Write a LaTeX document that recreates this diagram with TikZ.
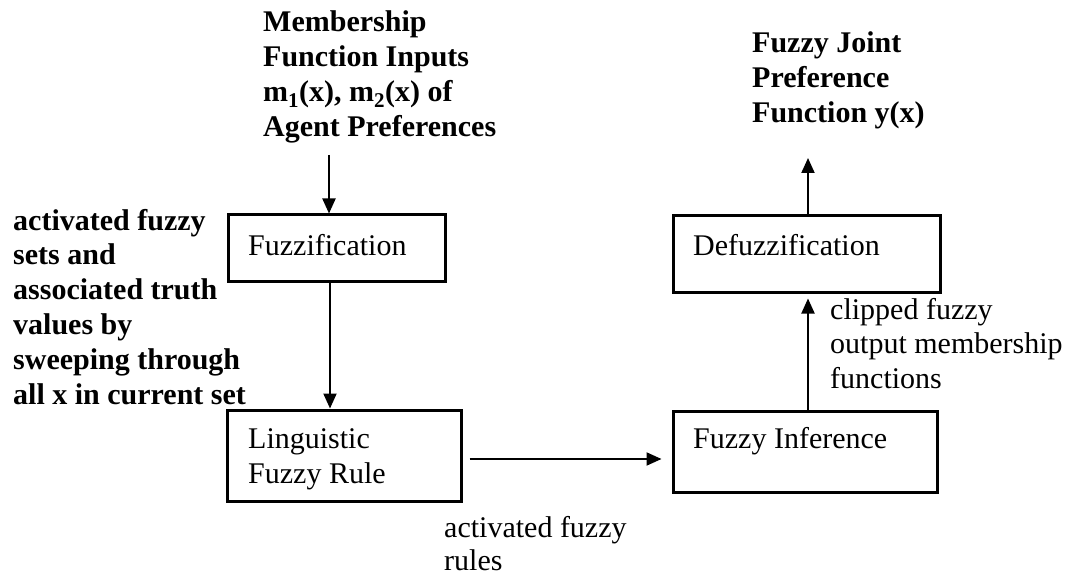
\documentclass[tikz,border=0pt]{standalone}
\usepackage{fontspec}
\setmainfont{Liberation Serif}
\usetikzlibrary{arrows.meta}

% multi-line text whose reference point is the first baseline; lines end with \cr
\newcommand{\stackedtext}[1]{\vtop{\halign{##\hfil\cr#1\crcr}}}

\begin{document}
\begin{tikzpicture}[x=1pt,y=-1pt,
  font=\fontsize{30}{35}\selectfont,
  stagebox/.style={draw,line width=3pt,rectangle,inner sep=0pt},
  txt/.style={anchor=base west,inner sep=0pt},
  flow/.style={line width=2pt,-{Triangle[length=15pt,width=13pt]}}]
\useasboundingbox (0,0) rectangle (1072,575);

% processing stages
\node[stagebox,minimum width=217pt,minimum height=66pt] (fuzz) at (336.5,248) {};
\node[stagebox,minimum width=234pt,minimum height=91pt] (rule) at (344,455.5) {};
\node[stagebox,minimum width=264pt,minimum height=81pt] (infer) at (805,451.5) {};
\node[stagebox,minimum width=267pt,minimum height=76pt] (defuzz) at (806.5,254) {};

\node[txt] (fuzzT) at (248,255) {Fuzzification};
\node[txt] (ruleT) at (248,448) {\stackedtext{Linguistic\cr Fuzzy Rule}};
\node[txt] (inferT) at (693,448) {Fuzzy Inference};
\node[txt] (defuzzT) at (693,255) {Defuzzification};

% inputs, outputs and annotations
\node[txt,font=\fontsize{30}{35}\selectfont\bfseries] (inputs) at (263,32)
  {\stackedtext{Membership\cr Function Inputs\cr m\textsubscript{1}(x), m\textsubscript{2}(x) of\cr Agent Preferences}};
\node[txt,font=\fontsize{30}{35}\selectfont\bfseries] (sets) at (13,230)
  {\stackedtext{activated fuzzy\cr sets and\cr associated truth\cr values by\cr sweeping through\cr all x in current set}};
\node[txt,font=\fontsize{30}{35}\selectfont\bfseries] (output) at (752,53)
  {\stackedtext{Fuzzy Joint\cr Preference\cr Function y(x)}};
\node[txt] (clipped) at (830,319)
  {\stackedtext{clipped fuzzy\cr output membership\cr functions}};
\node[txt,font=\fontsize{30}{33}\selectfont] (rulesT) at (444,537)
  {\stackedtext{activated fuzzy\cr rules}};

% connector guide points
\coordinate (inTop) at (329,155);
\coordinate (colA) at (330,0);
\coordinate (rowA) at (0,459);
\coordinate (colB) at (808,0);
\coordinate (outTop) at (808,158);

\draw[flow] (inTop) -- (inTop |- fuzz.north);
\draw[flow] (colA |- fuzz.south) -- (colA |- rule.north);
\draw[flow,shorten <=7pt,shorten >=10pt] (rule.east |- rowA) -- (infer.west |- rowA);
\draw[flow,shorten >=5pt] (colB |- infer.north) -- (colB |- defuzz.south);
\draw[flow] (colB |- defuzz.north) -- (outTop);
\end{tikzpicture}
\end{document}
